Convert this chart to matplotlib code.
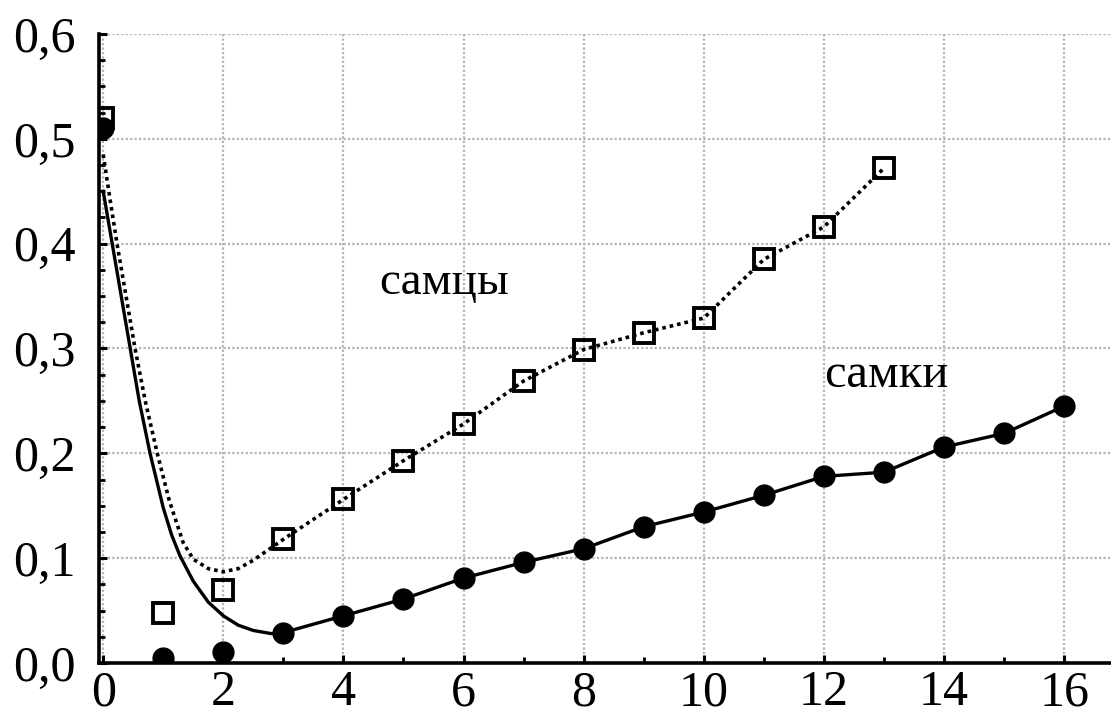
import matplotlib
matplotlib.use("Agg")
import matplotlib.pyplot as plt
from matplotlib.ticker import MultipleLocator, FuncFormatter

# observed points
x_males = [0, 1, 2, 3, 4, 5, 6, 7, 8, 9, 10, 11, 12, 13]
y_males = [0.520, 0.048, 0.070, 0.118, 0.156, 0.193, 0.228, 0.269, 0.299, 0.315, 0.329, 0.385, 0.416, 0.472]
x_females = [0, 1, 2, 3, 4, 5, 6, 7, 8, 9, 10, 11, 12, 13, 14, 15, 16]
y_females = [0.510, 0.005, 0.010, 0.029, 0.045, 0.061, 0.081, 0.096, 0.109, 0.130, 0.144, 0.160, 0.178, 0.182, 0.206, 0.219, 0.245]

# fitted curves
fit_m_x = [0, 0.12, 0.23, 0.38, 0.53, 0.7, 0.9, 1.1, 1.33, 1.5, 1.75, 2.0, 2.25, 2.5, 2.75, 3,
           4, 5, 6, 7, 8, 9, 10, 11, 12, 13]
fit_m_y = [0.485, 0.44, 0.40, 0.35, 0.30, 0.25, 0.20, 0.155, 0.115, 0.099, 0.090, 0.087, 0.090, 0.098, 0.108, 0.118,
           0.156, 0.193, 0.228, 0.269, 0.299, 0.315, 0.329, 0.385, 0.416, 0.472]
fit_f_x = [0, 0.15, 0.3, 0.45, 0.6, 0.78, 1.0, 1.14, 1.28, 1.5, 1.75, 2.0, 2.25, 2.5, 2.8, 3,
           4, 5, 6, 7, 8, 9, 10, 11, 12, 13, 14, 15, 16]
fit_f_y = [0.45, 0.40, 0.35, 0.30, 0.25, 0.20, 0.148, 0.122, 0.102, 0.078, 0.058, 0.045, 0.036, 0.031, 0.028, 0.029,
           0.045, 0.061, 0.081, 0.096, 0.109, 0.130, 0.144, 0.160, 0.178, 0.182, 0.206, 0.219, 0.245]

label_males = "самцы"
label_females = "самки"

serif = ["Liberation Serif", "DejaVu Serif"]

fig = plt.figure(figsize=(11.11, 7.26), dpi=100)
ax = fig.add_axes([0.0891, 0.0868, 0.9109, 0.8664])

ax.set_xlim(-0.07, 16.78)
ax.set_ylim(0, 0.6)

ax.grid(True, which="major", color="#b4b4b4", linestyle=(0, (1, 1.0)), linewidth=1.6)
ax.set_axisbelow(True)

ax.plot(fit_m_x, fit_m_y, color="black", linestyle=(0, (1, 1.1)), linewidth=2.6, zorder=3)
ax.plot(fit_f_x, fit_f_y, color="black", linestyle="-", linewidth=2.4, zorder=3)

ax.plot(x_males, y_males, linestyle="none", marker="s", markersize=14,
        markerfacecolor="none", markeredgecolor="black", markeredgewidth=2.8, zorder=4)
ax.plot(x_females, y_females, linestyle="none", marker="o", markersize=15,
        markerfacecolor="black", markeredgecolor="black", zorder=4)

ax.text(4.6, 0.363, label_males, fontsize=34, family=serif, va="center", ha="left")
ax.text(12.0, 0.275, label_females, fontsize=35, family=serif, va="center", ha="left")

for s in ["top", "right"]:
    ax.spines[s].set_visible(False)
for s in ["left", "bottom"]:
    ax.spines[s].set_linewidth(2.6)

ax.xaxis.set_major_locator(MultipleLocator(2))
ax.xaxis.set_minor_locator(MultipleLocator(1))
ax.yaxis.set_major_locator(MultipleLocator(0.1))
ax.yaxis.set_minor_locator(MultipleLocator(0.025))
ax.yaxis.set_major_formatter(FuncFormatter(lambda v, p: f"{v:.1f}".replace(".", ",")))
ax.tick_params(which="both", direction="in", color="black")
ax.tick_params(which="major", length=6, width=2.2)
ax.tick_params(which="minor", length=4, width=2.0)
ax.tick_params(axis="x", which="major", pad=5)
ax.tick_params(axis="y", which="major", pad=17)
for lab in ax.get_xticklabels() + ax.get_yticklabels():
    lab.set_fontfamily(serif)
    lab.set_fontsize(36)

fig.savefig("out.png", dpi=100)
